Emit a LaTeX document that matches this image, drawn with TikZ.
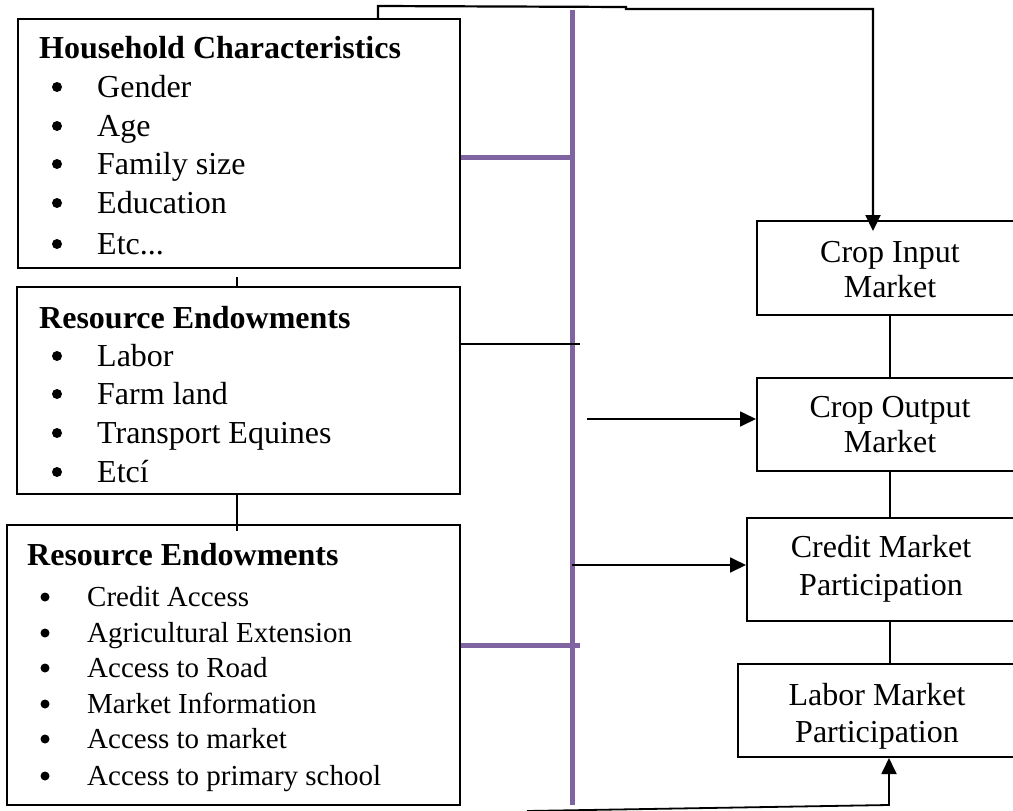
\documentclass[tikz,border=0pt]{standalone}
\usepackage{fontspec}
\setmainfont{Liberation Serif}
\usetikzlibrary{arrows.meta}
\definecolor{purp}{HTML}{8064A2}
\tikzset{
  box/.style={draw, line width=2pt, rectangle, inner sep=0pt},
  conn/.style={line width=1.8pt},
  arr/.style={conn, -{Triangle[width=15pt,length=16pt]}},
  pur/.style={draw=purp, line width=5pt},
  big/.style={font=\fontsize{32}{39}\selectfont, inner sep=0pt, anchor=base west},
  head/.style={font=\fontsize{32}{39}\selectfont\bfseries, inner sep=0pt, anchor=base west},
  small/.style={font=\fontsize{29}{35}\selectfont, inner sep=0pt, anchor=base west},
  dot/.style={circle, fill, inner sep=0pt, minimum size=10pt},
  sdot/.style={circle, fill, inner sep=0pt, minimum size=9pt},
  mid/.style={font=\fontsize{32}{39}\selectfont, inner sep=0pt, anchor=base},
}
\begin{document}
\begin{tikzpicture}[x=1pt,y=-1pt]
\useasboundingbox (0,0) rectangle (1013,811);
% boxes
\node[box, minimum width=442pt, minimum height=249pt] (hh) at (239,143.5) {};
\node[box, minimum width=443pt, minimum height=207pt] (re1) at (238.5,390.5) {};
\node[box, minimum width=453.5pt, minimum height=280pt] (re2) at (233.25,665) {};
\node[box, minimum width=266pt, minimum height=94pt] (ci) at (890,268) {};
\node[box, minimum width=266pt, minimum height=93pt] (co) at (890,424.5) {};
\node[box, minimum width=268pt, minimum height=103pt] (cr) at (881,569.5) {};
\node[box, minimum width=278pt, minimum height=93pt] (lb) at (877,710.5) {};
% texts left
\node[head] (hht) at (39,58) {Household Characteristics};
\foreach \t/\y [count=\i] in {Gender/97,Age/136,Family size/174,Education/213}{
  \node[dot] (hhb\i) at (57,\y-10) {};
  \node[big] (hhi\i) at (97,\y) {\t};
}
\node[dot] (hhb5) at (57,244) {};
\node[big] (hhi5) at (97,254) {Etc...};
\node[head] (re1t) at (39,328) {Resource Endowments};
\foreach \t/\y [count=\i] in {Labor/366,Farm land/404,Transport Equines/443,Etcí/482}{
  \node[dot] (r1b\i) at (57,\y-10) {};
  \node[big] (r1i\i) at (97,\y) {\t};
}
\node[head] (re2t) at (27,565) {Resource Endowments};
\foreach \t/\y [count=\i] in {Credit Access/606,Agricultural Extension/642,Access to Road/677,Market Information/713,Access to market/748,Access to primary school/785}{
  \node[sdot] (r2b\i) at (45,\y-9) {};
  \node[small] (r2i\i) at (87,\y) {\t};
}
% texts right
\node[mid] (cit1) at (890,262) {Crop Input};
\node[mid] (cit2) at (890,297) {Market};
\node[mid] (cot1) at (890,417) {Crop Output};
\node[mid] (cot2) at (890,452) {Market};
\node[mid] (crt1) at (881,557) {Credit Market};
\node[mid] (crt2) at (881,595) {Participation};
\node[mid] (lbt1) at (877,705) {Labor Market};
\node[mid] (lbt2) at (877,742) {Participation};
% purple bar
\coordinate (pt) at (572,10);
\coordinate (pb) at (572,805);
\draw[pur] (pt) -- (pb);
\draw[pur] (hh.east |- 0,157) -- (pt |- 0,157);
\draw[pur] (re2.east |- 0,645) -- ([xshift=8pt]pt |- 0,645);
% black connectors
\draw[conn] (re1.east |- 0,344) -- ([xshift=8pt]pt |- 0,344);
\draw[arr] ([xshift=15pt]pt |- 0,419) -- (co.west |- 0,419);
\draw[arr] (pt |- 0,565) -- (cr.west |- 0,565);
\draw[conn] ([xshift=-2pt,yshift=-8pt]hh.south) -- ([xshift=-2pt]hh.south |- re1.north);
\draw[conn] ([xshift=-1.5pt]re1.south) -- ([xshift=-1.5pt,yshift=-7pt]re1.south |- re2.north);
\draw[conn] (ci.south) -- (co.north);
\draw[conn] (co.south) -- (co.south |- cr.north);
\draw[conn] (cr.south -| co.south) -- (co.south |- lb.north);
\draw[arr, line width=2.2pt] ([xshift=139pt]hh.north) -- ++(0,-12) -- (626,7) -- (626,9) -| ([xshift=-17pt,yshift=-11pt]ci.north);
\draw[conn] ([xshift=-19.25pt,yshift=-5pt]re2.south) -- ++(0,12);
\coordinate (bl) at (527,811);
\draw[arr] (bl) -- ([xshift=12pt]lb.south |- 0,805) -- ([xshift=12pt]lb.south);
\end{tikzpicture}
\end{document}
